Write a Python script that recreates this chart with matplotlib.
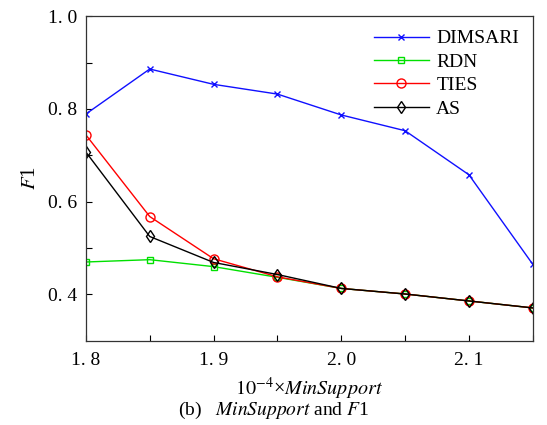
import numpy as np
import matplotlib.pyplot as plt

min_support = [1.80, 1.85, 1.90, 1.95, 2.00, 2.05, 2.10, 2.15]
dimsari = [0.789, 0.886, 0.853, 0.832, 0.787, 0.753, 0.658, 0.465]
rdn = [0.470, 0.475, 0.460, 0.437, 0.413, 0.401, 0.386, 0.371]
ties = [0.744, 0.568, 0.477, 0.438, 0.413, 0.401, 0.386, 0.371]
as_vals = [0.707, 0.525, 0.469, 0.443, 0.413, 0.401, 0.386, 0.371]

xticks = [1.80, 1.85, 1.90, 1.95, 2.00, 2.05, 2.10, 2.15]
xtick_labels = ["1. 8", "", "1. 9", "", "2. 0", "", "2. 1", ""]
yticks = [0.4, 0.5, 0.6, 0.7, 0.8, 0.9, 1.0]
ytick_labels = ["0. 4", "", "0. 6", "", "0. 8", "", "1. 0"]

plt.rcParams['font.family'] = ['Liberation Serif', 'DejaVu Serif']
plt.rcParams['mathtext.fontset'] = 'stix'

fig = plt.figure(figsize=(5.47, 4.25), dpi=100)
ax = fig.add_axes([0.157, 0.198, 0.817, 0.764])

ax.plot(min_support, dimsari, color='#1010ff', marker='x', ms=4.5, mew=1,
        lw=1, label='DIMSARI')
ax.plot(min_support, rdn, color='#00e000', marker='s', ms=5, mfc='none',
        mew=1, lw=1, label='RDN')
ax.plot(min_support, ties, color='#ff0000', marker='o', ms=6.5, mfc='none',
        mew=1, lw=1, label='TIES')
ax.plot(min_support, as_vals, color='black', marker='d', ms=6.5, mfc='none',
        mew=1, lw=1, label='AS')

ax.set_xlim(1.8, 2.15)
ax.set_ylim(0.3, 1.0)
ax.set_xticks(xticks)
ax.set_xticklabels(xtick_labels, fontsize=14)
ax.set_yticks(yticks)
ax.set_yticklabels(ytick_labels, fontsize=14)
ax.tick_params(direction='in', length=4, width=0.8, top=False, right=False)
ax.tick_params(axis='x', pad=8)
ax.tick_params(axis='y', pad=6)
for s in ax.spines.values():
    s.set_linewidth(0.9)
    s.set_color('#333333')

ax.set_ylabel(r'$F$1', fontsize=15, labelpad=6)
ax.set_xlabel(r'$10^{-4}$×$\mathit{MinSupport}$', fontsize=14.5, labelpad=5)

leg = ax.legend(loc='upper right', frameon=False, fontsize=14,
                handlelength=2.8, handletextpad=0.4, labelspacing=0.3,
                borderaxespad=0.3)

fig.text(0.5, 0.035, r'(b)   $\mathit{MinSupport}$ and $F$1', ha='center',
         va='center', fontsize=14)

fig.savefig('out.png', dpi=100)
